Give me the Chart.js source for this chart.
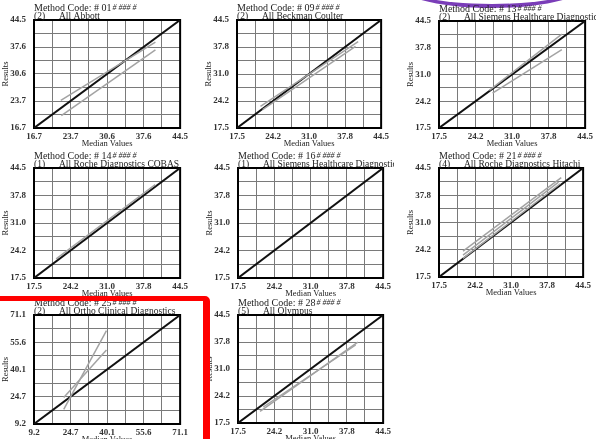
<!DOCTYPE html>
<html>
<head>
<meta charset="utf-8">
<script src="https://cdn.jsdelivr.net/npm/chart.js@4"></script>
<style>
  html, body { margin: 0; padding: 0; background: #fff; }
  body { width: 604px; height: 439px; overflow: hidden; position: relative; }
  canvas.panel { position: absolute; }
  #arc {
    position: absolute; left: 392px; top: -46px; width: 200px; height: 50px;
    border-bottom: 4px solid #7a3db8; border-radius: 50%;
  }
  #redBox {
    position: absolute; left: -10px; top: 296px; width: 220px; height: 160px;
    box-sizing: border-box; border: 5px solid #ff0000; border-right-width: 7px;
    border-radius: 0 5px 0 0;
  }
</style>
</head>
<body>
<div id="arc"></div>
<div id="redBox"></div>
<script>
// Data
const methodCodes = ['01', '09', '13', '14', '16', '21', '25', '28'];
const groupCounts = ['(2)', '(2)', '(2)', '(1)', '(1)', '(4)', '(2)', '(5)'];
const groupNames = [
    'All Abbott',
    'All Beckman Coulter',
    'All Siemens Healthcare Diagnostics',
    'All Roche Diagnostics COBAS',
    'All Siemens Healthcare Diagnostics',
    'All Roche Diagnostics Hitachi',
    'All Ortho Clinical Diagnostics',
    'All Olympus'
];
const axisTickLabels = [
    ['16.7', '23.7', '30.6', '37.6', '44.5'],
    ['17.5', '24.2', '31.0', '37.8', '44.5'],
    ['17.5', '24.2', '31.0', '37.8', '44.5'],
    ['17.5', '24.2', '31.0', '37.8', '44.5'],
    ['17.5', '24.2', '31.0', '37.8', '44.5'],
    ['17.5', '24.2', '31.0', '37.8', '44.5'],
    ['9.2', '24.7', '40.1', '55.6', '71.1'],
    ['17.5', '24.2', '31.0', '37.8', '44.5']
];
// gray lines per panel: [x1, y1, x2, y2]
const fitLines = [
    [[21.8, 23.8, 39.8, 38.8], [21.9, 19.9, 39.8, 36.8]],
    [[21.9, 22.9, 40.2, 39.1], [22.3, 22.1, 39.7, 37.9]],
    [[26.8, 27.0, 40.2, 41.2], [27.4, 26.3, 40.2, 37.3]],
    [[21.6, 22.2, 39.9, 40.4]],
    [],
    [[22.0, 23.9, 40.4, 42.1], [22.0, 22.9, 39.9, 41.0], [22.0, 22.1, 40.2, 40.6]],
    [[21.8, 17.5, 39.9, 62.2], [21.8, 24.3, 39.9, 51.2]],
    [[21.6, 20.4, 39.8, 37.7], [22.2, 21.5, 39.4, 37.0]]
];

// Plot area of each panel on the page: left, top, right, bottom
const plotRects = [
    [34, 20, 182, 128],
    [237, 20, 383, 128],
    [439, 21, 587, 128],
    [34, 168, 182, 278],
    [238, 168, 385, 278],
    [439, 168, 585, 277],
    [34, 315, 182, 424],
    [238, 315, 385, 423]
];

const SERIF = '"Liberation Serif", "Times New Roman", serif';
const AXIS_W = 34, TOP_PAD = 20, RIGHT_PAD = 9, BOTTOM_H = 22;

// Frame + two-line heading above each plot
const panelTitles = {
    id: 'panelTitles',
    beforeDatasetsDraw(chart) {
        const { ctx, chartArea } = chart;
        ctx.save();
        ctx.strokeStyle = '#000';
        ctx.lineWidth = 2;
        ctx.strokeRect(chartArea.left, chartArea.top, chartArea.width, chartArea.height);
        ctx.restore();
    },
    afterDraw(chart, args, opts) {
        const { ctx, chartArea } = chart;
        const x = chartArea.left;
        ctx.save();
        ctx.fillStyle = '#222';
        ctx.textBaseline = 'middle';
        ctx.font = '10px ' + SERIF;
        const head = 'Method Code: # ' + opts.code;
        ctx.fillText(head, x, chartArea.top - 12);
        const w = ctx.measureText(head).width;
        ctx.font = 'italic 8px ' + SERIF;
        ctx.fillText('# ### #', x + w + 1, chartArea.top - 12);
        ctx.font = '9.5px ' + SERIF;
        ctx.fillText(opts.count, x, chartArea.top - 4);
        ctx.fillText(opts.name, x + 25, chartArea.top - 4);
        ctx.restore();
    }
};

plotRects.forEach((r, i) => {
    const [L, T, R, B] = r;
    const canvas = document.createElement('canvas');
    canvas.className = 'panel';
    const w = (R - L) + AXIS_W + RIGHT_PAD;
    const h = (B - T) + TOP_PAD + BOTTOM_H;
    canvas.width = w;
    canvas.height = h;
    canvas.style.left = (L - AXIS_W) + 'px';
    canvas.style.top = (T - TOP_PAD) + 'px';
    canvas.style.width = w + 'px';
    canvas.style.height = h + 'px';
    document.body.insertBefore(canvas, document.getElementById('redBox'));

    const labels = axisTickLabels[i];
    const min = parseFloat(labels[0]);
    const max = parseFloat(labels[labels.length - 1]);
    const tickValues = [];
    for (let k = 0; k <= 8; k++) tickValues.push(min + k * (max - min) / 8);

    const datasets = fitLines[i].map(l => ({
        data: [{ x: l[0], y: l[1] }, { x: l[2], y: l[3] }],
        borderColor: '#a3a3a3',
        borderWidth: 1.5
    }));
    datasets.push({
        data: [{ x: min, y: min }, { x: max, y: max }],
        borderColor: '#111',
        borderWidth: 2
    });
    datasets.forEach(d => { d.showLine = true; d.pointRadius = 0; d.fill = false; });

    const tickFont = { family: SERIF, size: 9, weight: 'bold' };
    const tickCallback = (v, idx) => (idx % 2 === 0 ? labels[idx / 2] : '');

    new Chart(canvas, {
        type: 'scatter',
        data: { datasets },
        options: {
            responsive: false,
            animation: false,
            layout: { padding: { top: TOP_PAD, right: RIGHT_PAD, left: 0, bottom: 0 } },
            plugins: {
                legend: { display: false },
                tooltip: { enabled: false },
                panelTitles: { code: methodCodes[i], count: groupCounts[i], name: groupNames[i] }
            },
            scales: {
                x: {
                    type: 'linear', min, max,
                    afterBuildTicks: s => { s.ticks = tickValues.map(v => ({ value: v })); },
                    afterFit: s => { s.height = BOTTOM_H; },
                    grid: { color: '#7a7a7a', lineWidth: 1, drawTicks: false },
                    border: { display: false },
                    ticks: { autoSkip: false, maxRotation: 0, padding: 3, color: '#333', font: tickFont, callback: tickCallback },
                    title: { display: true, text: 'Median Values', color: '#222', font: { family: SERIF, size: 8.5 }, padding: { top: 0, bottom: 1 } }
                },
                y: {
                    type: 'linear', min, max,
                    afterBuildTicks: s => { s.ticks = tickValues.map(v => ({ value: v })); },
                    afterFit: s => { s.width = AXIS_W; },
                    grid: { color: '#7a7a7a', lineWidth: 1, drawTicks: false },
                    border: { display: false },
                    ticks: { autoSkip: false, padding: 8, color: '#333', font: tickFont, callback: tickCallback },
                    title: { display: true, text: 'Results', color: '#222', font: { family: SERIF, size: 8.5 }, padding: { top: 1, bottom: 0 } }
                }
            }
        },
        plugins: [panelTitles]
    });
});
</script>
</body>
</html>
